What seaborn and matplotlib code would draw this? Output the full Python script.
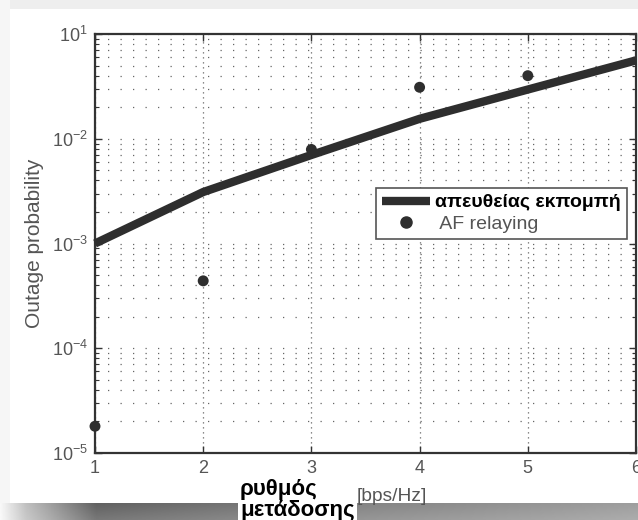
import numpy as np
import pandas as pd
import matplotlib
matplotlib.use("Agg")
import matplotlib.pyplot as plt
import seaborn as sns
from matplotlib.ticker import FixedLocator, FixedFormatter, LogLocator, NullFormatter
from matplotlib.patches import Rectangle
from matplotlib.lines import Line2D

# ---- data ----
rate = [1, 2, 3, 4, 5, 6]
direct = [1.0e-3, 3.1e-3, 7.0e-3, 1.55e-2, 2.95e-2, 5.6e-2]
af_rate = [1, 2, 3, 4, 5]
af_relaying = [1.8e-5, 4.4e-4, 7.9e-3, 3.1e-2, 4.0e-2]
ytick_vals = [1e-5, 1e-4, 1e-3, 1e-2, 1e-1]
ytick_labels = ['$10^{-5}$', '$10^{-4}$', '$10^{-3}$', '$10^{-2}$', '$10^{1}$']
xtick_labels = ['1', '2', '3', '4', '5', '6']
series_names = ['απευθείας εκπομπή', ' AF relaying']

sns.set_theme(style="white")
plt.rcParams['font.family'] = ['Liberation Sans', 'DejaVu Sans']
plt.rcParams['mathtext.fontset'] = 'custom'
plt.rcParams['mathtext.rm'] = 'Liberation Sans'

W, H = 638, 520
fig = plt.figure(figsize=(W / 100, H / 100), dpi=100)
fig.patch.set_facecolor('white')

def px(x, y):
    return x / W, 1 - y / H

# background card / shadow
fig.add_artist(Rectangle((0, 1 - 9 / H), 1, 9 / H, transform=fig.transFigure,
                         facecolor='#eeeeee', edgecolor='none', zorder=-10))
fig.add_artist(Rectangle((0, 0), 10 / W, 1, transform=fig.transFigure,
                         facecolor='#f6f6f6', edgecolor='none', zorder=-10))
sax = fig.add_axes([0, 0, 1, (H - 503) / H], zorder=-5)
gx = np.linspace(0, 1, 400)
horiz = np.interp(gx, [0, 0.04, 0.15, 0.5, 1.0], [0.97, 0.75, 0.38, 0.5, 0.62])
gy = np.linspace(0, 1, 30)[:, None]
img = horiz[None, :] * (1 - 0.15 * gy) + 0.15 * gy
sax.imshow(img, cmap='gray', vmin=0, vmax=1, aspect='auto', extent=[0, 1, 0, 1])
sax.set_axis_off()

x0, x1 = 95, 636
y0, y1 = 34, 453
ax = fig.add_axes([x0 / W, 1 - y1 / H, (x1 - x0) / W, (y1 - y0) / H])
ax.set_facecolor('white')

df_direct = pd.DataFrame({'rate': rate, 'p': direct})
df_af = pd.DataFrame({'rate': af_rate, 'p': af_relaying})

sns.lineplot(data=df_direct, x='rate', y='p', ax=ax, color='#2e2e2e',
             linewidth=6.0, solid_capstyle='butt', zorder=4, clip_on=False)
sns.scatterplot(data=df_af, x='rate', y='p', ax=ax, color='#2e2e2e',
                marker='o', s=62, edgecolor='none', zorder=5, clip_on=False)

ax.set_yscale('log')
ax.set_ylim(1e-5, 1e-1)
ax.set_xlim(1, 6)
ax.yaxis.set_major_locator(FixedLocator(ytick_vals))
ax.yaxis.set_major_formatter(FixedFormatter(ytick_labels))
ax.yaxis.set_minor_locator(LogLocator(base=10, subs=np.arange(2, 10)))
ax.yaxis.set_minor_formatter(NullFormatter())
ax.set_xticks(rate)
ax.set_xticklabels(xtick_labels)

# grid
ax.grid(False)
ax.yaxis.grid(True, which='both', color='#666666', linewidth=0.9,
              linestyle=(0, (1, 9)))
ax.xaxis.grid(True, which='major', color='#666666', linewidth=0.9,
              linestyle=(0, (1, 3)))
ax.set_axisbelow(True)

for s in ax.spines.values():
    s.set_visible(True)
    s.set_color('#333333')
    s.set_linewidth(1.6)
ax.tick_params(axis='both', which='both', direction='in', top=True, right=True,
               left=True, bottom=True, color='#333333')
ax.tick_params(axis='both', which='major', length=5, width=1, labelsize=13,
               labelcolor='#555555', pad=5)
ax.tick_params(axis='y', which='minor', length=3, width=0.8)
ax.set_xlabel('')
ax.set_ylabel('Outage probability', fontsize=15, color='#555555', labelpad=6)

# legend
h_line = Line2D([], [], color='#2e2e2e', linewidth=6.0, solid_capstyle='butt')
h_pt = Line2D([], [], color='#2e2e2e', marker='o', markersize=8, linestyle='none')
leg = ax.legend([h_line, h_pt], series_names, loc='upper left',
                bbox_to_anchor=((376 - x0) / (x1 - x0), 1 - (188 - y0) / (y1 - y0)),
                fontsize=14, frameon=True, fancybox=False, handlelength=2.5,
                handletextpad=0.25, borderpad=0.3, labelspacing=0.2,
                borderaxespad=0)
leg.get_frame().set_edgecolor('#555555')
leg.get_frame().set_linewidth(1.2)
leg.get_frame().set_facecolor('white')
leg.get_frame().set_alpha(1)
t0, t1 = leg.get_texts()
t0.set_fontweight('bold')
t0.set_color('black')
t1.set_color('#555555')

# x-axis label (overlay)
fig.add_artist(Rectangle(px(238, 520), (357 - 238) / W, (520 - 478) / H,
                         transform=fig.transFigure, facecolor='white',
                         edgecolor='none', zorder=3))
fig.text(*px(357, 501), '[bps/Hz]', fontsize=13.8, color='#555555',
         ha='left', va='baseline', zorder=2)
fig.text(*px(240, 495), 'ρυθμός', fontsize=16, fontweight='bold', color='black',
         ha='left', va='baseline', zorder=4)
fig.text(*px(240, 516), 'μετάδοσης', fontsize=16, fontweight='bold', color='black',
         ha='left', va='baseline', zorder=4)

fig.savefig('out.png', dpi=100, facecolor=fig.get_facecolor())
